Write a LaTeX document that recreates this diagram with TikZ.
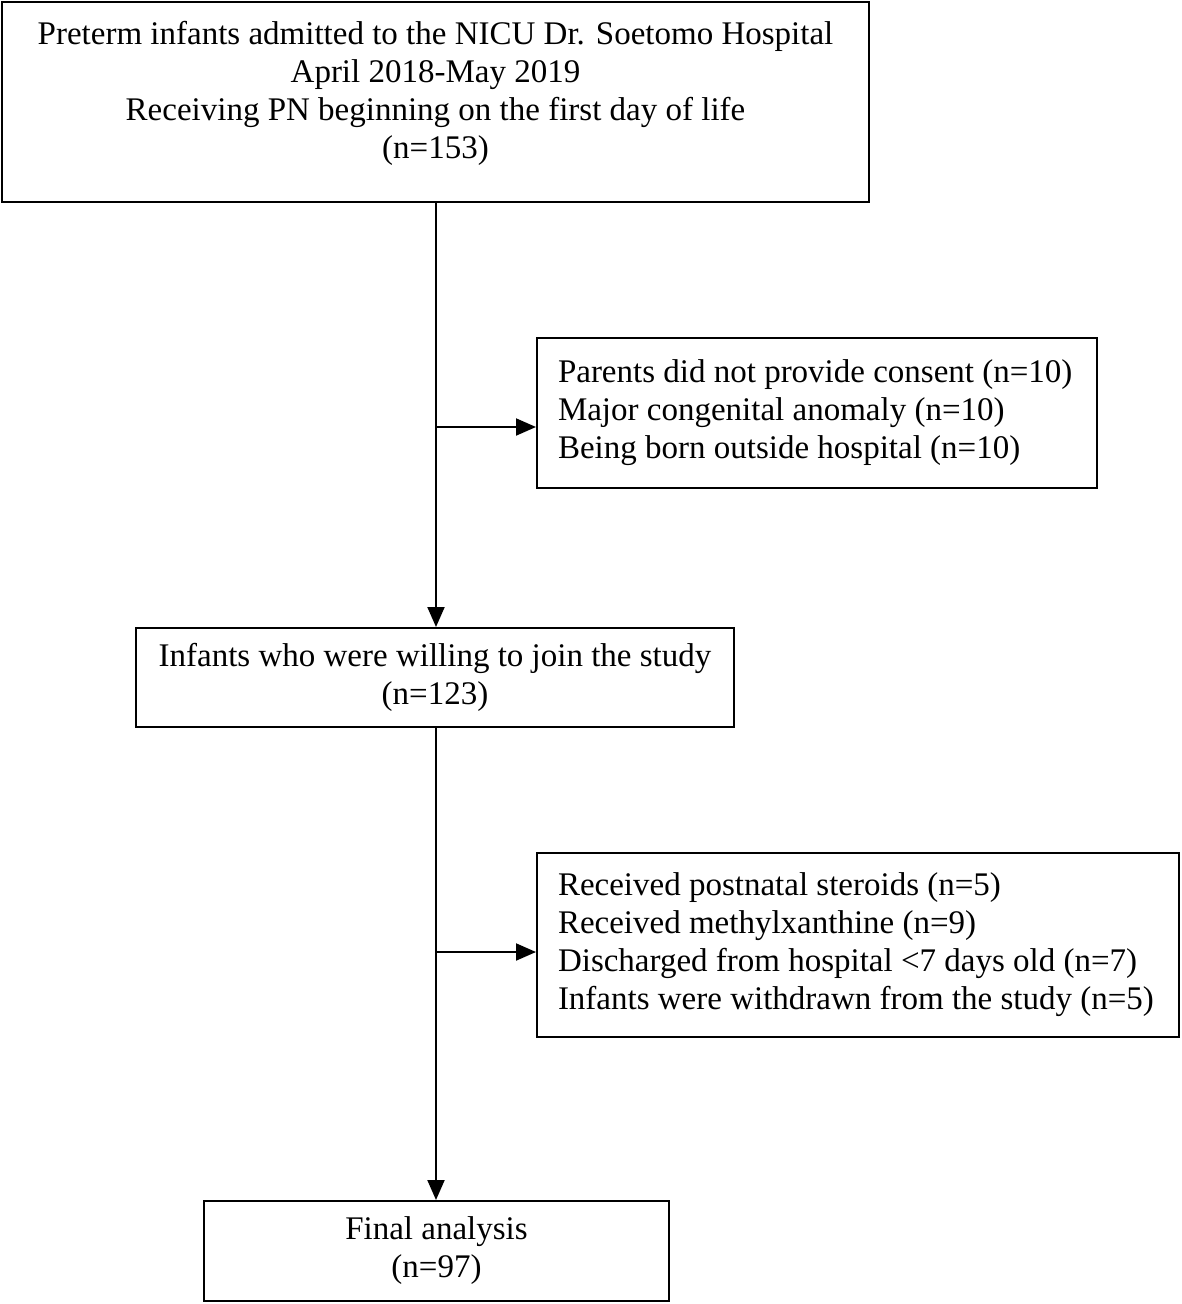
\documentclass[tikz,border=0pt]{standalone}
\usepackage{fontspec}
\setmainfont{Liberation Serif}
\usetikzlibrary{arrows.meta}
\begin{document}
\begin{tikzpicture}[x=1pt,y=-1pt,
  box/.style={draw,line width=2pt,inner sep=0pt,font=\fontsize{33}{38}\selectfont},
  cbox/.style={box,align=center},
  lbox/.style={box,align=flush left,inner xsep=21pt},
  flow/.style={line width=2pt,-{Triangle[length=20pt,width=17pt]}}]
\useasboundingbox (0,0) rectangle (1181,1304);
\node[cbox,minimum width=867pt,minimum height=200pt] (top) at (435.5,102)
  {Preterm infants admitted to the NICU Dr. Soetomo Hospital\\April 2018-May 2019\\Receiving PN beginning on the first day of life\\(n=153)\\[-13pt]};
\node[lbox,anchor=west,text width=518pt,minimum height=150pt] (ex1) at (536,413)
  {Parents did not provide consent (n=10)\\Major congenital anomaly (n=10)\\Being born outside hospital (n=10)};
\node[cbox,minimum width=598pt,minimum height=99pt] (mid) at (435,677.5)
  {Infants who were willing to join the study\\(n=123)};
\node[lbox,anchor=west,text width=600pt,minimum height=184pt] (ex2) at (536,945)
  {Received postnatal steroids (n=5)\\Received methylxanthine (n=9)\\Discharged from hospital <7 days old (n=7)\\Infants were withdrawn from the study (n=5)};
\node[cbox,minimum width=465pt,minimum height=100pt] (fin) at (436.5,1251)
  {Final analysis\\(n=97)};
\coordinate (b1) at (436,427);
\coordinate (b2) at (436,952);
\draw[flow] (top.south -| b1) -- (mid.north -| b1);
\draw[flow] (b1) -- (ex1.west |- b1);
\draw[flow] (mid.south -| b2) -- (fin.north -| b2);
\draw[flow] (b2) -- (ex2.west |- b2);
\end{tikzpicture}
\end{document}
